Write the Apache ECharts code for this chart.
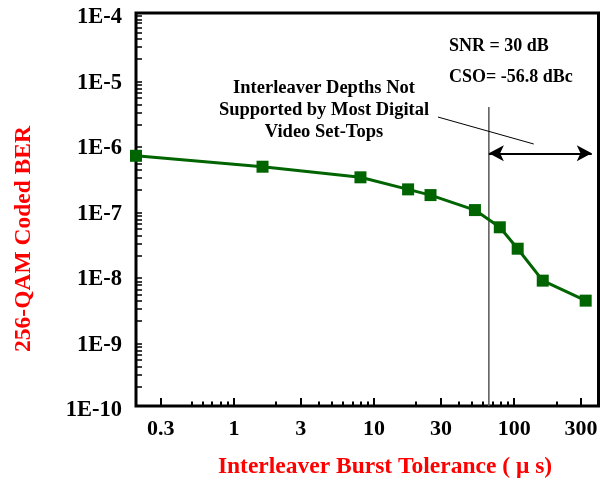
<!DOCTYPE html>
<html><head><meta charset="utf-8">
<script src="https://cdn.jsdelivr.net/npm/echarts@6/dist/echarts.min.js"></script>
<style>html,body{margin:0;padding:0;background:#fff}#c{width:603px;height:481px}</style>
</head><body><div id="c"></div>
<script>
// Data
const burstTolerance = [0.2, 1.6, 8, 17.5, 25.3, 52.5, 79, 106, 160, 324];   // µs
const codedBER = [6.6e-7, 4.5e-7, 3.1e-7, 2.03e-7, 1.66e-7, 9.8e-8, 5.35e-8, 2.52e-8, 8.2e-9, 4.06e-9];

// Tick values
const xMajorTicks = [0.3, 1, 3, 10, 30, 100, 300];
const xMinorTicks = [0.5, 0.6, 0.7, 0.8, 0.9, 2, 4, 5, 6, 7, 8, 9, 20, 40, 50, 60, 70, 80, 90, 200];
const yTickLabels = [1e-10, 1e-9, 1e-8, 1e-7, 1e-6, 1e-5, 1e-4];
const yDecades = [1e-10, 1e-9, 1e-8, 1e-7, 1e-6, 1e-5];
const yMinorMultipliers = [2, 3, 4, 5, 6, 7, 8, 9];
const yMinorTicks = yDecades.flatMap(d => yMinorMultipliers.map(k => +(k * d).toPrecision(3)));

// Annotation anchors (data coordinates)
const depthLimitX = 66;
const depthLineTop = 3.67e-6;
const arrowSpan = [66, 358];
const arrowLevel = 7.2e-7;
const leaderFrom = [28.6, 2.58e-6];
const leaderTo = [138, 1.0e-6];

const FONT = 'Liberation Serif';
const chart = echarts.init(document.getElementById('c'), null, {renderer: 'canvas'});

const xBase = {
  type: 'log', logBase: 10, min: 0.2, max: 400, position: 'bottom',
  splitLine: {show: false}, minorTick: {show: false}
};
const yBase = {
  type: 'log', logBase: 10, min: 1e-10, max: 1e-4, position: 'left',
  splitLine: {show: false}, minorTick: {show: false}
};

chart.setOption({
  animation: false,
  backgroundColor: '#fff',
  grid: {left: 136, right: 4.5, top: 13, bottom: 75, show: true, borderColor: '#000', borderWidth: 3, containLabel: false},
  xAxis: [
    Object.assign({}, xBase, {
      axisLine: {show: false},
      axisTick: {show: true, inside: true, length: 8, lineStyle: {color: '#000', width: 2}, customValues: xMajorTicks},
      axisLabel: {show: true, customValues: xMajorTicks, margin: 12, color: '#000',
        fontFamily: FONT, fontWeight: 'bold', fontSize: 22, formatter: v => String(v)}
    }),
    Object.assign({}, xBase, {
      axisLine: {show: false},
      axisTick: {show: true, inside: true, length: 4.5, lineStyle: {color: '#000', width: 2}, customValues: xMinorTicks},
      axisLabel: {show: false}
    })
  ],
  yAxis: [
    Object.assign({}, yBase, {
      axisLine: {show: false},
      axisTick: {show: true, inside: true, length: 6, lineStyle: {color: '#000', width: 1.5}, customValues: yMinorTicks},
      axisLabel: {show: true, customValues: yTickLabels, margin: 14, color: '#000',
        fontFamily: FONT, fontWeight: 'bold', fontSize: 22.5, verticalAlign: 'top', lineHeight: 9,
        formatter: v => '1E' + Math.round(Math.log10(v))}
    })
  ],
  series: [
    {
      type: 'line', xAxisIndex: 0, yAxisIndex: 0, clip: false,
      data: burstTolerance.map((x, i) => [x, codedBER[i]]),
      symbol: 'rect', symbolSize: 12, showSymbol: true,
      itemStyle: {color: '#006400'},
      lineStyle: {color: '#006400', width: 3},
      z: 5
    },
    {
      type: 'line', xAxisIndex: 0, yAxisIndex: 0,
      data: [[depthLimitX, depthLineTop], [depthLimitX, 1e-10]],
      symbol: 'none', lineStyle: {color: '#555', width: 1.5}, z: 3
    },
    {
      type: 'line', xAxisIndex: 0, yAxisIndex: 0, data: [],
      markLine: {
        silent: true, animation: false,
        symbol: ['arrow', 'arrow'], symbolSize: [12, 15],
        label: {show: false},
        lineStyle: {color: '#000', width: 2, type: 'solid'},
        data: [[{coord: [arrowSpan[0], arrowLevel]}, {coord: [arrowSpan[1], arrowLevel]}]]
      }
    },
    {
      type: 'line', xAxisIndex: 0, yAxisIndex: 0, data: [],
      markLine: {
        silent: true, animation: false,
        symbol: ['none', 'none'],
        label: {show: false},
        lineStyle: {color: '#000', width: 1, type: 'solid'},
        data: [[{coord: leaderFrom}, {coord: leaderTo}]]
      }
    }
  ],
  graphic: [
    {type: 'text', x: 449, y: 46, style: {text: 'SNR = 30 dB', font: 'bold 18px "' + FONT + '"', fill: '#000', textAlign: 'left', textVerticalAlign: 'middle'}},
    {type: 'text', x: 449, y: 77, style: {text: 'CSO= -56.8 dBc', font: 'bold 18px "' + FONT + '"', fill: '#000', textAlign: 'left', textVerticalAlign: 'middle'}},
    {type: 'text', x: 324, y: 88, style: {text: 'Interleaver Depths Not', font: 'bold 18.5px "' + FONT + '"', fill: '#000', textAlign: 'center', textVerticalAlign: 'middle'}},
    {type: 'text', x: 324, y: 110.5, style: {text: 'Supported by Most Digital', font: 'bold 18.5px "' + FONT + '"', fill: '#000', textAlign: 'center', textVerticalAlign: 'middle'}},
    {type: 'text', x: 324, y: 132.5, style: {text: 'Video Set-Tops', font: 'bold 18.5px "' + FONT + '"', fill: '#000', textAlign: 'center', textVerticalAlign: 'middle'}},
    {type: 'text', x: 24, y: 239, rotation: Math.PI / 2, style: {text: '256-QAM Coded BER', font: 'bold 23.5px "' + FONT + '"', fill: '#ff0000', textAlign: 'center', textVerticalAlign: 'middle'}},
    {type: 'text', x: 385, y: 467, style: {text: 'Interleaver Burst Tolerance ( μ s)', font: 'bold 23.5px "' + FONT + '"', fill: '#ff0000', textAlign: 'center', textVerticalAlign: 'middle'}}
  ]
});
</script>
</body></html>
